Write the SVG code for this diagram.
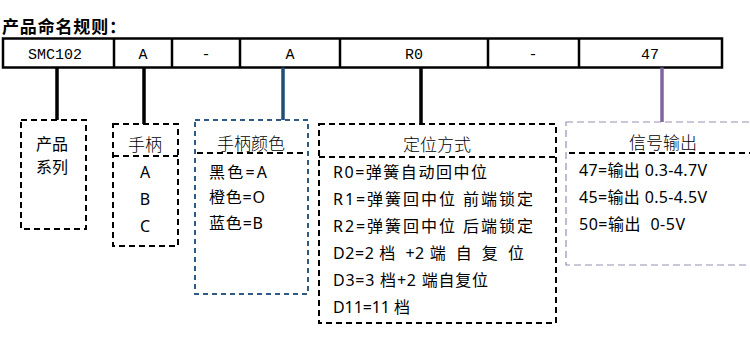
<svg xmlns="http://www.w3.org/2000/svg" width="750" height="343" viewBox="0 0 750 343">
<style>
.title{font-family:"Noto Sans CJK SC","Noto Sans",sans-serif;font-size:17px;font-weight:bold;fill:#000}
.cell{font-family:"Liberation Mono","Noto Sans CJK SC",monospace;font-size:15px;fill:#000;text-anchor:middle}
.hd{font-family:"Noto Sans CJK SC","Noto Sans",sans-serif;font-size:17px;fill:#000;text-anchor:middle;font-weight:300}
.it{font-family:"Noto Sans","Noto Sans CJK SC",sans-serif;font-size:16px;fill:#000}
.itc{font-family:"Noto Sans","Noto Sans CJK SC",sans-serif;font-size:16px;fill:#000;text-anchor:middle}
.box{fill:none;stroke:#000;stroke-width:2;stroke-dasharray:6 4}
.bluebox{fill:none;stroke:#2F5A86;stroke-width:2;stroke-dasharray:5 4}
.purbox{fill:none;stroke:#9A8DB3;stroke-width:1.2;stroke-dasharray:7 4}
.div{stroke:#000;stroke-width:2;stroke-dasharray:6 4}
.tbl{fill:none;stroke:#000;stroke-width:2.5}
.conn{stroke-width:3.5;fill:none}
</style>
<rect width="750" height="343" fill="#fff"/>
<text class="title" x="2" y="33" textLength="124" lengthAdjust="spacing">产品命名规则：</text>
<g id="table">
<rect class="tbl" x="3" y="38.5" width="719" height="29"/>
<line class="tbl" x1="114" y1="38.5" x2="114" y2="67.5"/>
<line class="tbl" x1="172" y1="38.5" x2="172" y2="67.5"/>
<line class="tbl" x1="240" y1="38.5" x2="240" y2="67.5"/>
<line class="tbl" x1="340" y1="38.5" x2="340" y2="67.5"/>
<line class="tbl" x1="488" y1="38.5" x2="488" y2="67.5"/>
<line class="tbl" x1="579" y1="38.5" x2="579" y2="67.5"/>
<text class="cell" x="55" y="59">SMC102</text>
<text class="cell" x="143" y="59">A</text>
<text class="cell" x="206" y="59">-</text>
<text class="cell" x="290" y="59">A</text>
<text class="cell" x="414" y="59">R0</text>
<text class="cell" x="533" y="59">-</text>
<text class="cell" x="650" y="59">47</text>
</g>
<g id="connectors">
<line class="conn" stroke="#000" x1="57" y1="67.5" x2="57" y2="120"/>
<line class="conn" stroke="#000" x1="144" y1="67.5" x2="144" y2="124"/>
<line class="conn" stroke="#1F4E79" x1="283" y1="67.5" x2="283" y2="120"/>
<line class="conn" stroke="#000" x1="421" y1="67.5" x2="421" y2="124"/>
<line class="conn" stroke="#8064A2" x1="662" y1="67.5" x2="662" y2="122"/>
</g>
<g id="series">
<rect class="box" x="21" y="120" width="65" height="109"/>
<text class="itc" x="52" y="150">产品</text>
<text class="itc" x="52" y="173">系列</text>
</g>
<g id="handle">
<rect class="box" x="113" y="124" width="65" height="122"/>
<line class="div" x1="113" y1="156" x2="178" y2="156"/>
<text class="hd" x="145" y="151">手柄</text>
<text class="itc" x="145" y="178">A</text>
<text class="itc" x="145" y="205">B</text>
<text class="itc" x="145" y="232">C</text>
</g>
<g id="color">
<rect class="bluebox" x="195" y="120" width="113" height="174"/>
<line class="div" x1="197" y1="153" x2="306" y2="153"/>
<text class="hd" x="251" y="150">手柄颜色</text>
<text class="it" x="209" y="178" textLength="58" lengthAdjust="spacing">黑色=A</text>
<text class="it" x="209" y="203" textLength="56" lengthAdjust="spacing">橙色=O</text>
<text class="it" x="209" y="229" textLength="54" lengthAdjust="spacing">蓝色=B</text>
</g>
<g id="position">
<rect class="box" x="319" y="124" width="237" height="199"/>
<line class="div" x1="319" y1="157" x2="556" y2="157"/>
<text class="hd" x="437" y="151">定位方式</text>
<text class="it" x="333" y="178" textLength="154" lengthAdjust="spacing">R0=弹簧自动回中位</text>
<text class="it" x="333" y="205" textLength="200" lengthAdjust="spacing">R1=弹簧回中位 前端锁定</text>
<text class="it" x="333" y="232" textLength="200" lengthAdjust="spacing">R2=弹簧回中位 后端锁定</text>
<text class="it" x="333" y="259" xml:space="preserve" textLength="191" lengthAdjust="spacing">D2=2 档  +2 端  自  复  位</text>
<text class="it" x="333" y="286" textLength="155" lengthAdjust="spacing">D3=3 档+2 端自复位</text>
<text class="it" x="333" y="313" textLength="77" lengthAdjust="spacing">D11=11 档</text>
</g>
<g id="signal">
<rect class="purbox" x="566" y="122" width="200" height="143"/>
<line class="div" x1="569" y1="153" x2="750" y2="153"/>
<text class="hd" x="663" y="149">信号输出</text>
<text class="it" x="579" y="176" textLength="128" lengthAdjust="spacing">47=输出 0.3-4.7V</text>
<text class="it" x="579" y="203" textLength="128" lengthAdjust="spacing">45=输出 0.5-4.5V</text>
<text class="it" x="579" y="230" xml:space="preserve" textLength="106" lengthAdjust="spacing">50=输出  0-5V</text>
</g>
</svg>
